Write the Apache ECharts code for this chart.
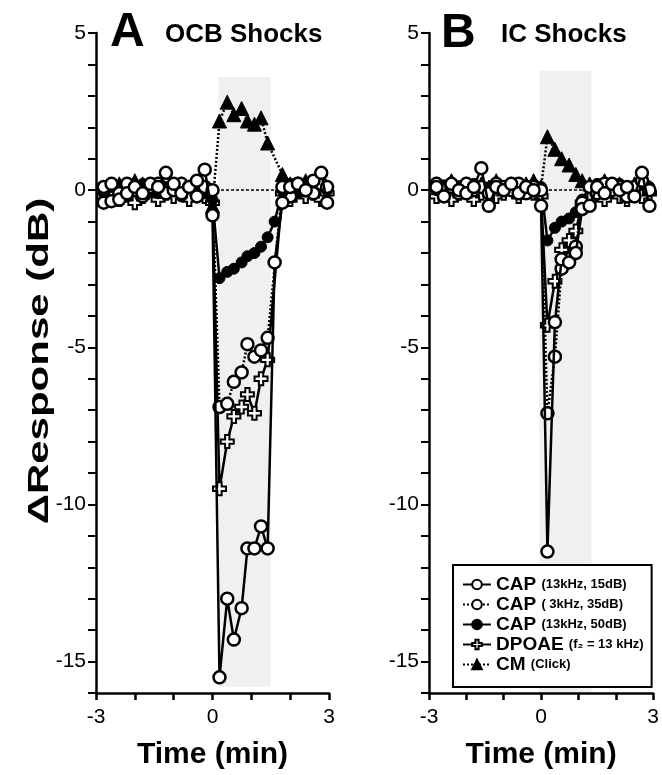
<!DOCTYPE html>
<html>
<head>
<meta charset="UTF-8">
<title>OCB / IC Shocks</title>
<script src="https://cdn.jsdelivr.net/npm/echarts@6/dist/echarts.min.js"></script>
<style>
  html, body { margin: 0; padding: 0; background: #fff; }
  #chart { width: 662px; height: 775px; }
</style>
</head>
<body>
<div id="chart"></div>
<script>
// time points (min), panel A and panel B
const timeA = [-2.8,-2.6,-2.4,-2.2,-2.0,-1.8,-1.6,-1.4,-1.2,-1.0,-0.8,-0.6,-0.4,-0.2,0.0,
               0.18,0.38,0.55,0.75,0.9,1.08,1.25,1.42,1.6,
               1.8,2.0,2.2,2.4,2.6,2.8,2.95];
const timeB = [-2.8,-2.6,-2.4,-2.2,-2.0,-1.8,-1.6,-1.4,-1.2,-1.0,-0.8,-0.6,-0.4,-0.2,0.0,
               0.17,0.37,0.55,0.75,0.93,1.1,
               1.3,1.5,1.7,1.9,2.1,2.3,2.5,2.7,2.9];

// panel A: OCB shocks (dB change)
const cap15A = [-0.4,-0.35,-0.3,-0.1,0.1,-0.1,0.2,0.1,0.55,0.2,-0.1,0.1,0.3,0.65,-0.8,
                -15.5,-13.0,-14.3,-13.3,-11.4,-11.4,-10.7,-11.4,-2.3,
                -0.4,0.1,0.2,0.0,0.3,0.55,-0.4];
const cap35A = [0.1,0.2,-0.1,0.2,0.0,-0.2,0.1,0.2,-0.1,0.0,0.2,0.1,-0.2,0.1,0.0,
                -6.9,-6.8,-6.1,-5.8,-4.9,-5.3,-5.1,-4.7,null,
                0.1,-0.2,0.2,0.0,-0.1,0.2,0.1];
const cap50A = [-0.1,0.1,0.0,-0.2,0.1,0.2,0.0,-0.1,0.1,0.0,-0.2,0.1,0.0,-0.1,-0.3,
                -2.8,-2.6,-2.5,-2.3,-2.1,-2.0,-1.8,-1.5,-1.0,
                0.0,0.2,-0.1,0.1,0.0,0.2,0.0];
const dpoaeA = [-0.2,0.0,-0.3,-0.1,-0.4,-0.2,0.0,-0.3,-0.1,-0.2,0.0,-0.3,-0.1,-0.2,-0.4,
                -9.5,-8.0,-7.2,-6.9,-6.5,-7.1,-6.0,-5.4,null,
                -0.1,-0.3,0.0,-0.2,-0.1,-0.3,-0.1];
const cmA    = [0.1,0.0,0.2,0.1,0.3,0.2,0.1,0.2,0.0,0.1,0.2,0.1,0.2,0.0,-0.5,
                2.2,2.8,2.4,2.6,2.2,2.1,2.3,1.5,null,
                0.5,0.2,0.1,0.3,0.0,0.2,0.1];

// panel B: IC shocks
const cap15B = [0.1,-0.2,0.2,0.0,-0.1,0.1,0.7,-0.5,0.1,0.0,0.2,-0.1,0.1,0.0,-0.5,
                -11.5,-4.2,-2.2,-2.3,-2.0,-0.6,
                -0.5,0.1,-0.1,0.2,0.0,0.1,-0.2,0.55,-0.5];
const cap35B = [0.2,0.0,0.1,-0.1,0.2,0.0,0.1,-0.1,0.2,0.1,0.0,0.2,-0.1,0.1,0.0,
                -7.1,-5.3,-2.5,-2.2,-1.8,-0.4,
                0.1,-0.1,0.2,0.0,0.1,-0.2,0.1,0.3,0.0];
const cap50B = [0.0,0.1,0.2,0.0,0.1,0.2,0.1,0.0,0.2,0.1,0.2,0.0,0.1,0.2,0.1,
                -1.6,-1.2,-1.0,-0.9,-0.7,-0.3,
                0.1,0.2,0.0,0.1,0.2,0.0,0.1,0.2,0.1];
const dpoaeB = [-0.2,0.1,-0.3,-0.1,0.0,-0.3,-0.1,0.0,-0.2,-0.1,0.1,-0.2,0.0,-0.1,-0.2,
                -4.3,-2.9,-1.9,-1.6,-1.3,-0.4,
                -0.3,-0.1,-0.3,0.0,-0.2,-0.3,0.0,-0.2,-0.1];
const cmB    = [0.2,0.1,0.3,0.1,0.2,0.0,0.2,0.1,0.3,0.1,0.2,0.1,0.2,0.3,0.1,
                1.7,1.3,1.0,0.8,0.5,0.3,
                0.2,0.1,0.3,0.1,0.2,0.0,0.2,0.1,0.1];

const names = ['CAP (13kHz, 15dB)', 'CAP ( 3kHz, 35dB)', 'CAP (13kHz, 50dB)',
               'DPOAE (f\u2082 = 13 kHz)', 'CM (Click)'];
const xLabels = [-3, 0, 3];
const yLabels = [-15, -10, -5, 0, 5];
// shaded shock period [t0, t1, top, bottom]
const shadeA = [0.15, 1.5, 3.6, -15.8];
const shadeB = [-0.05, 1.35, 3.8, -16];

const font = '"Liberation Sans", Arial, sans-serif';
const plus = 'path://M4,0H8V4H12V8H8V12H4V8H0V4H4Z';

const styles = [
  { symbol: 'circle', symbolSize: 12, fill: '#fff', bw: 2.5, line: 'solid', z: 5 },
  { symbol: 'circle', symbolSize: 12, fill: '#fff', bw: 2.5, line: [2, 2], z: 4 },
  { symbol: 'circle', symbolSize: 11, fill: '#000', bw: 1, line: 'solid', z: 3 },
  { symbol: plus, symbolSize: 13, fill: '#fff', bw: 2, line: 'solid', z: 2 },
  { symbol: 'triangle', symbolSize: 14, fill: '#000', bw: 1, line: [2, 2], z: 1 }
];

function pairs(t, v) {
  const out = [];
  t.forEach((x, i) => { if (v[i] !== null) out.push([x, v[i]]); });
  return out;
}

function makeSeries(idx, gi, t, v) {
  const s = styles[idx];
  return {
    name: names[idx], type: 'line', xAxisIndex: gi, yAxisIndex: gi,
    data: pairs(t, v), symbol: s.symbol, symbolSize: s.symbolSize, showSymbol: true,
    itemStyle: { color: s.fill, borderColor: '#000', borderWidth: s.bw },
    lineStyle: { color: '#000', width: 2.5, type: s.line },
    z: s.z + 2
  };
}

function backdrop(gi, sh) {
  return {
    type: 'line', xAxisIndex: gi, yAxisIndex: gi, data: [], z: 1, silent: true,
    markArea: {
      silent: true,
      itemStyle: { color: 'rgba(0,0,0,0.06)' },
      data: [[{ xAxis: sh[0], yAxis: sh[2] }, { xAxis: sh[1], yAxis: sh[3] }]]
    },
    markLine: {
      silent: true, symbol: 'none', label: { show: false },
      lineStyle: { color: '#000', width: 1.5, type: [3, 2] },
      data: [{ yAxis: 0 }]
    }
  };
}

function xAxis(gi) {
  return {
    type: 'value', gridIndex: gi, min: -3, max: 3, interval: 1,
    axisLine: { show: true, onZero: false, lineStyle: { color: '#000', width: 2.5 } },
    axisTick: { show: true, length: 7, lineStyle: { color: '#000', width: 2.5 } },
    axisLabel: { customValues: xLabels, margin: 14, fontSize: 21, color: '#000', fontFamily: font },
    splitLine: { show: false },
    name: 'Time (min)', nameLocation: 'middle', nameGap: 47,
    nameTextStyle: { fontSize: 30, fontWeight: 'bold', color: '#000', fontFamily: font }
  };
}

function yAxis(gi) {
  return {
    type: 'value', gridIndex: gi, min: -16, max: 5, interval: 1,
    axisLine: { show: true, onZero: false, lineStyle: { color: '#000', width: 2.5 } },
    axisTick: { show: true, length: 8, lineStyle: { color: '#000', width: 2 } },
    axisLabel: { customValues: yLabels, margin: 10, fontSize: 21, color: '#000', fontFamily: font },
    splitLine: { show: false }
  };
}

const option = {
  animation: false,
  backgroundColor: '#fff',
  grid: [
    { left: 96, top: 33, width: 233, height: 660 },
    { left: 429, top: 33, width: 234, height: 660 }
  ],
  xAxis: [xAxis(0), xAxis(1)],
  yAxis: [yAxis(0), yAxis(1)],
  legend: {
    data: names, orient: 'vertical', left: 453, top: 565,
    itemWidth: 28, itemHeight: 12, itemGap: 1,
    padding: [10, 8, 13, 9],
    borderColor: '#000', borderWidth: 2, backgroundColor: '#fff',
    textStyle: {
      fontFamily: font, fontSize: 19, fontWeight: 'bold', color: '#000',
      rich: {
        n: { fontFamily: font, fontSize: 19, fontWeight: 'bold', lineHeight: 20, color: '#000' },
        p: { fontFamily: font, fontSize: 13, fontWeight: 'bold', color: '#000' }
      }
    },
    formatter: function (name) {
      const k = name.indexOf(' ');
      return '{n|' + name.slice(0, k) + '} {p|' + name.slice(k + 1) + '}';
    }
  },
  graphic: [
    { type: 'text', left: 110, top: 9, style: { text: 'A', font: 'bold 48px ' + font, fill: '#000' } },
    { type: 'text', left: 165, top: 22, style: { text: 'OCB Shocks', font: 'bold 26px ' + font, fill: '#000' } },
    { type: 'text', left: 441, top: 10, style: { text: 'B', font: 'bold 48px ' + font, fill: '#000' } },
    { type: 'text', left: 501, top: 22, style: { text: 'IC Shocks', font: 'bold 26px ' + font, fill: '#000' } },
    { type: 'text', x: 40, y: 361, rotation: Math.PI / 2, scaleX: 1.4,
      style: { text: '\u0394Response (dB)', font: 'bold 30px ' + font, fill: '#000',
               align: 'center', verticalAlign: 'middle' } }
  ],
  series: [
    backdrop(0, shadeA),
    backdrop(1, shadeB),
    makeSeries(4, 0, timeA, cmA),
    makeSeries(3, 0, timeA, dpoaeA),
    makeSeries(2, 0, timeA, cap50A),
    makeSeries(1, 0, timeA, cap35A),
    makeSeries(0, 0, timeA, cap15A),
    makeSeries(4, 1, timeB, cmB),
    makeSeries(3, 1, timeB, dpoaeB),
    makeSeries(2, 1, timeB, cap50B),
    makeSeries(1, 1, timeB, cap35B),
    makeSeries(0, 1, timeB, cap15B)
  ]
};

const chart = echarts.init(document.getElementById('chart'));
chart.setOption(option);
</script>
</body>
</html>
